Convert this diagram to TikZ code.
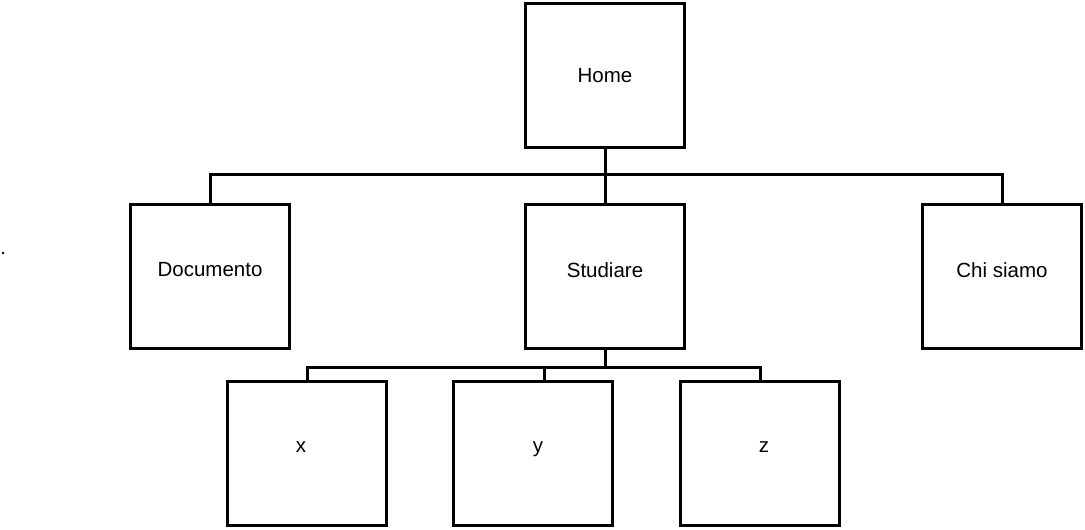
\documentclass[tikz,border=0pt]{standalone}
\usepackage{fontspec}
\setmainfont{Liberation Sans}
\begin{document}
\begin{tikzpicture}[x=1pt,y=-1pt,
  pagebox/.style={draw=black,line width=2.6pt,fill=white,inner sep=0pt,
    minimum width=159pt,minimum height=144pt,font=\fontsize{20.5}{24}\selectfont},
  boxlabel/.style={font=\fontsize{20.5}{24}\selectfont,inner sep=0pt},
  link/.style={draw=black,line width=3pt}]
\useasboundingbox (0,0) rectangle (1085,530);
\node[pagebox] (home) at (605,75.5) {Home};
\node[pagebox,label={[boxlabel,yshift=6.5pt]center:Documento}] (doc) at (210,276.5) {};
\node[pagebox,label={[boxlabel,yshift=6.5pt]center:Studiare}] (stu) at (605,276.5) {};
\node[pagebox,label={[boxlabel,yshift=6.5pt]center:Chi siamo}] (chi) at (1002,276.5) {};
\node[pagebox,label={[boxlabel,xshift=-6pt,yshift=6.5pt]center:x}] (nx) at (307,453.5) {};
\node[pagebox,label={[boxlabel,xshift=5pt,yshift=4pt]center:y}] (ny) at (533,453.5) {};
\node[pagebox,label={[boxlabel,xshift=4pt,yshift=6.5pt]center:z}] (nz) at (760,453.5) {};
\coordinate (bus1) at (605,174);
\coordinate (bus2) at (605,367);
\path[link] (home.south) -- (stu.north);
\path[link] (doc.north) |- (bus1) -| (chi.north);
\path[link] (stu.south) -- (bus2);
\path[link] (nx.north) |- (bus2) -| (nz.north);
\path[link] (ny.north) ++(11,0) coordinate (nyc) -- (nyc |- bus2);
\fill (3,253) circle (1.4pt);
\end{tikzpicture}
\end{document}
